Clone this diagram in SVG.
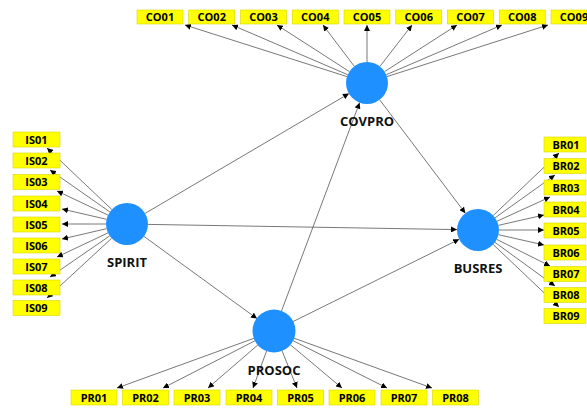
<svg xmlns="http://www.w3.org/2000/svg" width="587" height="408" viewBox="0 0 587 408">
<style>
.bg{fill:#ffffff}
.ind rect{fill:#ffff00;stroke:#d6d600;stroke-width:0.6}
.ind text{font-family:"Open Sans","DejaVu Sans",sans-serif;font-weight:bold;font-size:11px;fill:#000;text-anchor:middle}
.lv circle{fill:#1e90ff}
.lv text{font-family:"Open Sans","DejaVu Sans",sans-serif;font-weight:bold;font-size:13px;fill:#111;text-anchor:middle}
.conn line{stroke:#555;stroke-width:0.8;fill:none;marker-end:url(#ah)}
</style>
<defs>
<marker id="ah" viewBox="0 0 10 10" refX="10" refY="5" markerWidth="6" markerHeight="6" markerUnits="userSpaceOnUse" orient="auto">
<path d="M0,0 L10,5 L0,10 Z" fill="#000"/>
</marker>
</defs>
<rect class="bg" x="0" y="0" width="587" height="408"/>
<g id="connectors" class="conn">
<line x1="145.1" y1="213.4" x2="348.9" y2="93.6"/>
<line x1="281.4" y1="311.3" x2="359.6" y2="102.7"/>
<line x1="379.7" y1="99.8" x2="465.3" y2="213.2"/>
<line x1="148" y1="224.4" x2="457" y2="229.6"/>
<line x1="292.8" y1="321.7" x2="459.2" y2="239.3"/>
<line x1="144" y1="236.4" x2="257" y2="318.6"/>
<line x1="347.0" y1="76.6" x2="185" y2="25"/>
<line x1="347.7" y1="74.7" x2="232" y2="25"/>
<line x1="349.4" y1="71.6" x2="277" y2="25"/>
<line x1="354.3" y1="66.3" x2="323" y2="25"/>
<line x1="367" y1="62" x2="367" y2="25"/>
<line x1="379.9" y1="66.4" x2="412" y2="25"/>
<line x1="384.6" y1="71.6" x2="457" y2="25"/>
<line x1="386.3" y1="74.7" x2="502" y2="25"/>
<line x1="387.0" y1="76.6" x2="548" y2="25"/>
<line x1="111.8" y1="209.5" x2="47" y2="148"/>
<line x1="109.8" y1="211.9" x2="50" y2="170"/>
<line x1="108.0" y1="215.1" x2="57" y2="191"/>
<line x1="106.5" y1="219.3" x2="62" y2="209"/>
<line x1="106" y1="224" x2="62" y2="224"/>
<line x1="106.5" y1="228.7" x2="62" y2="239"/>
<line x1="108.0" y1="232.9" x2="57" y2="257"/>
<line x1="109.7" y1="235.9" x2="50" y2="277"/>
<line x1="111.6" y1="238.3" x2="47" y2="298"/>
<line x1="493.2" y1="215.5" x2="559" y2="153"/>
<line x1="495.1" y1="217.8" x2="555" y2="175"/>
<line x1="497.1" y1="221.2" x2="550" y2="197"/>
<line x1="498.5" y1="225.3" x2="544" y2="215"/>
<line x1="499" y1="230" x2="544" y2="230"/>
<line x1="498.5" y1="234.7" x2="544" y2="245"/>
<line x1="496.8" y1="239.4" x2="550" y2="266"/>
<line x1="495.0" y1="242.4" x2="555" y2="286"/>
<line x1="493.2" y1="244.5" x2="559" y2="307"/>
<line x1="254.3" y1="338.2" x2="117" y2="388"/>
<line x1="255.3" y1="340.6" x2="163" y2="388"/>
<line x1="258.1" y1="344.7" x2="208" y2="388"/>
<line x1="266.7" y1="350.7" x2="253" y2="388"/>
<line x1="281.9" y1="350.5" x2="297" y2="388"/>
<line x1="290.1" y1="344.5" x2="342" y2="388"/>
<line x1="292.7" y1="340.5" x2="387" y2="388"/>
<line x1="293.8" y1="338.1" x2="432" y2="388"/>
</g>
<g id="COVPRO" class="lv"><circle cx="367" cy="83" r="21"/><text x="367" y="126">COVPRO</text></g>
<g id="SPIRIT" class="lv"><circle cx="127" cy="224" r="21"/><text x="127" y="267">SPIRIT</text></g>
<g id="BUSRES" class="lv"><circle cx="478" cy="230" r="21"/><text x="478" y="273">BUSRES</text></g>
<g id="PROSOC" class="lv"><circle cx="274" cy="331" r="21.5"/><text x="274" y="375">PROSOC</text></g>
<g id="CO01" class="ind"><rect x="137" y="10" width="46" height="14"/><text x="160" y="21">CO01</text></g>
<g id="CO02" class="ind"><rect x="188.75" y="10" width="46" height="14"/><text x="211.75" y="21">CO02</text></g>
<g id="CO03" class="ind"><rect x="240.5" y="10" width="46" height="14"/><text x="263.5" y="21">CO03</text></g>
<g id="CO04" class="ind"><rect x="292.25" y="10" width="46" height="14"/><text x="315.25" y="21">CO04</text></g>
<g id="CO05" class="ind"><rect x="344" y="10" width="46" height="14"/><text x="367" y="21">CO05</text></g>
<g id="CO06" class="ind"><rect x="395.75" y="10" width="46" height="14"/><text x="418.75" y="21">CO06</text></g>
<g id="CO07" class="ind"><rect x="447.5" y="10" width="46" height="14"/><text x="470.5" y="21">CO07</text></g>
<g id="CO08" class="ind"><rect x="499.25" y="10" width="46" height="14"/><text x="522.25" y="21">CO08</text></g>
<g id="CO09" class="ind"><rect x="551" y="10" width="46" height="14"/><text x="574" y="21">CO09</text></g>
<g id="IS01" class="ind"><rect x="13" y="132" width="47" height="15"/><text x="36.5" y="143.5">IS01</text></g>
<g id="IS02" class="ind"><rect x="13" y="153" width="47" height="15"/><text x="36.5" y="164.5">IS02</text></g>
<g id="IS03" class="ind"><rect x="13" y="174.5" width="47" height="15"/><text x="36.5" y="186">IS03</text></g>
<g id="IS04" class="ind"><rect x="13" y="196" width="47" height="15"/><text x="36.5" y="207.5">IS04</text></g>
<g id="IS05" class="ind"><rect x="13" y="217" width="47" height="15"/><text x="36.5" y="228.5">IS05</text></g>
<g id="IS06" class="ind"><rect x="13" y="238" width="47" height="15"/><text x="36.5" y="249.5">IS06</text></g>
<g id="IS07" class="ind"><rect x="13" y="259" width="47" height="15"/><text x="36.5" y="270.5">IS07</text></g>
<g id="IS08" class="ind"><rect x="13" y="280" width="47" height="15"/><text x="36.5" y="291.5">IS08</text></g>
<g id="IS09" class="ind"><rect x="13" y="300.5" width="47" height="15"/><text x="36.5" y="312">IS09</text></g>
<g id="BR01" class="ind"><rect x="544" y="137" width="42" height="15"/><text x="566" y="148.5">BR01</text></g>
<g id="BR02" class="ind"><rect x="544" y="158.5" width="42" height="15"/><text x="566" y="170">BR02</text></g>
<g id="BR03" class="ind"><rect x="544" y="180" width="42" height="15"/><text x="566" y="191.5">BR03</text></g>
<g id="BR04" class="ind"><rect x="544" y="202" width="42" height="15"/><text x="566" y="213.5">BR04</text></g>
<g id="BR05" class="ind"><rect x="544" y="223" width="42" height="15"/><text x="566" y="234.5">BR05</text></g>
<g id="BR06" class="ind"><rect x="544" y="245" width="42" height="15"/><text x="566" y="256.5">BR06</text></g>
<g id="BR07" class="ind"><rect x="544" y="266.5" width="42" height="15"/><text x="566" y="278">BR07</text></g>
<g id="BR08" class="ind"><rect x="544" y="287.5" width="42" height="15"/><text x="566" y="299">BR08</text></g>
<g id="BR09" class="ind"><rect x="544" y="308.5" width="42" height="15"/><text x="566" y="320">BR09</text></g>
<g id="PR01" class="ind"><rect x="71" y="390" width="46" height="15"/><text x="94" y="401.5">PR01</text></g>
<g id="PR02" class="ind"><rect x="122.5" y="390" width="46" height="15"/><text x="145.5" y="401.5">PR02</text></g>
<g id="PR03" class="ind"><rect x="174" y="390" width="46" height="15"/><text x="197" y="401.5">PR03</text></g>
<g id="PR04" class="ind"><rect x="226" y="390" width="46" height="15"/><text x="249" y="401.5">PR04</text></g>
<g id="PR05" class="ind"><rect x="277.5" y="390" width="46" height="15"/><text x="300.5" y="401.5">PR05</text></g>
<g id="PR06" class="ind"><rect x="329" y="390" width="46" height="15"/><text x="352" y="401.5">PR06</text></g>
<g id="PR07" class="ind"><rect x="381" y="390" width="46" height="15"/><text x="404" y="401.5">PR07</text></g>
<g id="PR08" class="ind"><rect x="432.5" y="390" width="46" height="15"/><text x="455.5" y="401.5">PR08</text></g>
</svg>
